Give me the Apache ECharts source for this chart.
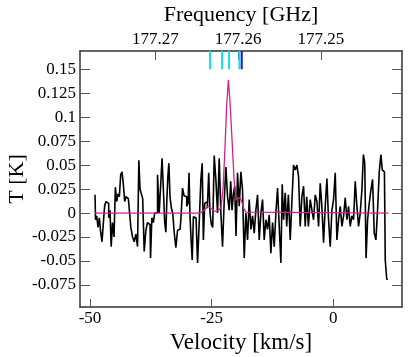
<!DOCTYPE html>
<html>
<head>
<meta charset="utf-8">
<script src="https://cdn.jsdelivr.net/npm/echarts@6/dist/echarts.min.js"></script>
<style>
  html, body { margin: 0; padding: 0; background: #fff; }
  #chart { width: 415px; height: 357px; }
</style>
</head>
<body>
<div id="chart"></div>
<script>
// spectrum channels (velocity km/s, T in K)
var specVel = [-48.96, -48.76, -48.48, -48.21, -47.94, -47.66, -47.39, -47.11, -46.84, -46.57,
    -46.29, -46.02, -45.75, -45.54, -45.20, -44.92, -44.65, -44.38, -44.10, -43.83,
    -43.55, -43.28, -43.01, -42.73, -42.46, -42.12, -41.77, -41.43, -41.09, -40.75,
    -40.40, -40.06, -39.86, -39.58, -39.31, -39.03, -38.69, -38.35, -38.01, -37.66,
    -37.46, -37.12, -36.84, -36.57, -36.29, -35.95, -35.61, -35.33, -35.06, -34.79,
    -34.51, -34.31, -34.10, -33.90, -33.69, -33.42, -33.14, -32.87, -32.53, -32.18,
    -31.84, -31.50, -31.16, -30.81, -30.54, -30.27, -29.99, -29.72, -29.58, -29.31,
    -29.10, -28.90, -28.62, -28.35, -28.07, -27.73, -27.39, -27.05, -26.84, -26.57,
    -26.29, -26.02, -25.75, -25.47, -25.20, -24.92, -24.65, -24.31, -23.97, -23.62,
    -23.28, -22.94, -22.60, -22.25, -21.91, -21.57, -21.23, -20.95, -20.68, -20.40,
    -20.13, -19.86, -19.51, -19.17, -18.83, -18.49, -18.14,
    -17.80, -17.46, -17.12, -16.77, -16.43, -16.09, -15.75, -15.40, -15.06, -14.72,
    -14.38, -14.03, -13.69, -13.35, -13.01, -12.66, -12.32, -11.98, -11.64, -11.29,
    -10.95, -10.61, -10.40, -10.06, -9.72, -9.45, -9.03, -8.69, -8.35, -8.01,
    -7.66, -7.32, -6.98, -6.64, -6.29, -5.95, -5.61, -5.34, -4.92, -4.58,
    -4.24, -3.90, -3.55, -3.21, -2.87, -2.53, -2.19, -1.84, -1.50, -1.16,
    -0.82, -0.47, -0.13, 0.21, 0.56, 0.90, 1.24, 1.58, 1.93, 2.27,
    2.61, 2.95, 3.29, 3.64, 3.98, 4.32, 4.66, 5.01, 5.35, 5.69,
    6.03, 6.31, 6.58, 6.86, 7.20, 7.54, 7.88, 8.23, 8.57, 8.91,
    9.25, 9.60, 9.94, 10.14, 10.49, 10.83, 11.10, 11.31];
var specT = [0.019, -0.007, -0.003, -0.015, -0.005, -0.020, -0.030, -0.010, 0.008, 0.012,
    0.010, -0.005, 0.003, -0.035, -0.010, -0.025, 0.027, 0.012, 0.020, 0.017,
    0.040, 0.043, 0.030, 0.012, 0.017, 0.015, 0.005, -0.015, -0.025, -0.030,
    -0.022, -0.035, 0.055, 0.025, 0.020, 0.015, -0.040, -0.018, -0.010, -0.012,
    -0.047, -0.005, -0.010, 0.000, 0.000, 0.040, 0.000, 0.030, 0.057, 0.025,
    -0.010, -0.020, 0.014, 0.038, 0.052, 0.017, 0.005, 0.000, -0.020, -0.036,
    -0.018, -0.017, -0.007, 0.026, 0.018, 0.017, 0.007, 0.010, 0.042, -0.004,
    -0.030, -0.049, -0.004, -0.005, -0.007, -0.052, -0.010, 0.035, 0.052, -0.028,
    0.010, 0.012, 0.005, 0.042, 0.000, -0.012, -0.015, 0.060, 0.035, 0.000,
    0.057, 0.000, -0.035, 0.012, 0.048, 0.017, 0.003, 0.033, 0.003, 0.020,
    0.028, -0.024, 0.042, 0.007, 0.043, 0.024, -0.047,
    0.000, -0.028, 0.014, -0.017, -0.003, -0.021, 0.003, 0.019, -0.028, 0.000,
    0.014, -0.028, -0.007, -0.017, -0.002, -0.042, -0.010, -0.035, 0.000, 0.026,
    -0.014, -0.052, 0.030, -0.007, 0.021, -0.014, 0.019, -0.028, 0.012, 0.050,
    0.045, 0.050, 0.038, -0.014, 0.017, 0.028, -0.014, 0.017, -0.014, 0.014,
    0.003, -0.007, 0.019, 0.012, -0.014, 0.031, 0.007, -0.031, 0.007, 0.036,
    -0.007, -0.035, 0.003, 0.014, 0.042, -0.028, -0.007, 0.007, -0.014, -0.003,
    0.016, -0.007, 0.007, -0.014, -0.003, -0.007, 0.033, 0.007, -0.014, 0.000,
    0.024, 0.061, 0.052, -0.047, -0.007, 0.010, 0.024, 0.035, -0.021, -0.028,
    0.003, 0.043, 0.061, 0.045, 0.043, -0.049, -0.069, -0.069];

// gaussian fit as drawn (magenta)
var fitVel = [-48.96, -27.39, -26.57, -25.75, -25.13, -24.50, -23.70, -23.08, -22.66, -22.25,
    -21.94, -21.57, -21.22, -20.75, -20.40, -19.99, -19.58, -19.17, -18.76, -18.35,
    -17.94, -17.53, 11.31];
var fitT = [0, 0, 0.003, 0.007, 0.005, 0.002, 0.002, 0.006, 0.025, 0.070,
    0.110, 0.139, 0.115, 0.070, 0.035, 0.014, 0.013, 0.016, 0.011, 0.004,
    0.001, 0, 0];

// line markers at the top of the box (velocity)
var markVel = [-25.33, -22.87, -21.43, -19.31, -18.82];
var markColor = ['#10e0f0', '#10e0f0', '#10e0f0', '#10e0f0', '#1a1acc'];

var velTicks = [-50, -25, 0];
var freqTicks = [177.27, 177.26, 177.25];
var tTicks = [-0.075, -0.05, -0.025, 0, 0.025, 0.05, 0.075, 0.1, 0.125, 0.15];

var yMin = -0.098, yMax = 0.169;
var font = 'Liberation Serif';

var myChart = echarts.init(document.getElementById('chart'));

var specData = specVel.map(function (v, i) { return [v, specT[i]]; });
var fitData = fitVel.map(function (v, i) { return [v, fitT[i]]; });

var series = [{
    type: 'line',
    xAxisIndex: 0,
    yAxisIndex: 0,
    data: specData,
    step: 'middle',
    symbol: 'none',
    lineStyle: {color: '#000', width: 1.6},
    z: 3
}, {
    type: 'line',
    xAxisIndex: 0,
    yAxisIndex: 0,
    data: fitData,
    symbol: 'none',
    lineStyle: {color: '#d4208e', width: 1.3},
    z: 4
}];

markVel.forEach(function (v, i) {
    series.push({
        type: 'line',
        xAxisIndex: 0,
        yAxisIndex: 0,
        data: [[v, 0.15], [v, yMax]],
        symbol: 'none',
        lineStyle: {color: markColor[i], width: 2},
        z: 5
    });
});

var tickStyle = {color: '#555', width: 1};
var lineStyle = {color: '#333', width: 1.5};

var option = {
    animation: false,
    grid: {left: 80, top: 51, right: 13, bottom: 50, outerBoundsMode: 'none', containLabel: false},
    // y axis title placed by hand, the axis name kept getting pushed left of the labels
    graphic: [{
        type: 'text',
        x: 17,
        y: 179,
        rotation: Math.PI / 2,
        style: {
            text: 'T [K]',
            font: '22px "Liberation Serif"',
            fill: '#000',
            align: 'center',
            verticalAlign: 'middle'
        }
    }],
    xAxis: [{
        type: 'value',
        position: 'bottom',
        min: -52.05,
        max: 14.1,
        name: 'Velocity [km/s]',
        nameLocation: 'middle',
        nameGap: 20,
        nameTextStyle: {fontFamily: font, fontSize: 23, color: '#000'},
        axisLine: {show: true, onZero: false, lineStyle: lineStyle},
        axisTick: {show: true, inside: true, length: 8, lineStyle: tickStyle, customValues: velTicks},
        axisLabel: {fontFamily: font, fontSize: 17, color: '#000', margin: 3, customValues: velTicks},
        splitLine: {show: false}
    }, {
        type: 'value',
        position: 'top',
        inverse: true,
        min: 177.24022,
        max: 177.27909,
        name: 'Frequency [GHz]',
        nameLocation: 'middle',
        nameGap: 22,
        nameTextStyle: {fontFamily: font, fontSize: 22, color: '#000'},
        axisLine: {show: true, onZero: false, lineStyle: lineStyle},
        axisTick: {show: true, inside: true, length: 9, lineStyle: tickStyle, customValues: freqTicks},
        axisLabel: {
            fontFamily: font, fontSize: 17, color: '#000', margin: 3, customValues: freqTicks,
            formatter: function (v) { return v.toFixed(2); }
        },
        splitLine: {show: false}
    }],
    yAxis: [{
        type: 'value',
        position: 'left',
        min: yMin,
        max: yMax,
        axisLine: {show: true, onZero: false, lineStyle: lineStyle},
        axisTick: {show: true, inside: true, length: 10, lineStyle: tickStyle, customValues: tTicks},
        axisLabel: {fontFamily: font, fontSize: 17, color: '#000', margin: 4, customValues: tTicks},
        splitLine: {show: false}
    }, {
        type: 'value',
        position: 'right',
        min: yMin,
        max: yMax,
        axisLine: {show: true, onZero: false, lineStyle: lineStyle},
        axisTick: {show: true, inside: true, length: 10, lineStyle: tickStyle, customValues: tTicks},
        axisLabel: {show: false},
        splitLine: {show: false}
    }],
    series: series
};

myChart.setOption(option);
</script>
</body>
</html>
